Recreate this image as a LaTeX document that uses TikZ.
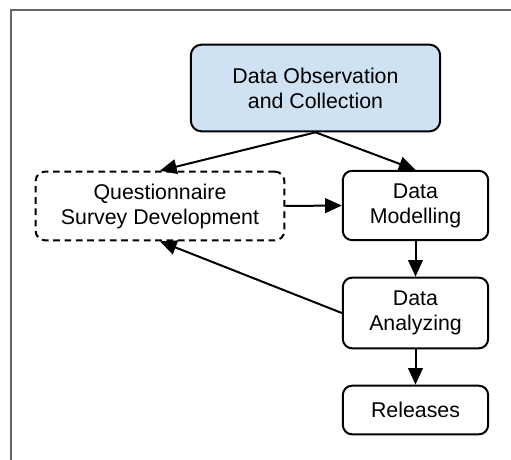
\documentclass[tikz,border=0pt]{standalone}
\usepackage{fontspec}
\setmainfont{Liberation Sans}
\usetikzlibrary{arrows.meta}

\definecolor{obsblue}{RGB}{207,226,243}
\definecolor{framegray}{RGB}{100,100,100}

\tikzset{every picture/.style={line width=1.5pt}}
\tikzset{
  stagebox/.style={draw=black, rounded corners=7pt, align=center, inner sep=0pt,
    font=\fontsize{16pt}{18.75pt}\selectfont, text=black},
  flowarrow/.style={-{Triangle[length=12.5pt,width=11pt]}, line width=1.5pt}
}

\begin{document}
\begin{tikzpicture}[x=0.75pt,y=0.75pt,yscale=-1,xscale=1]
\useasboundingbox (0,0) rectangle (511,460);

% Frame
\draw [framegray, line width=1.5pt] (10.5,460) -- (10.5,10.5) -- (511,10.5) ;

% Text Node
\node [stagebox, fill=obsblue, rounded corners=8pt, minimum width=187pt, minimum height=65pt] (obs) at (315.5,88) {Data Observation\\and Collection};
% Text Node
\node [stagebox, dashed, dash pattern=on 5pt off 3.5pt, minimum width=186.5pt, minimum height=51.5pt] (quest) at (160,206) {Questionnaire\\Survey Development};
% Text Node
\node [stagebox, minimum width=109pt, minimum height=52pt] (model) at (415.5,205.5) {Data\\Modelling};
% Text Node
\node [stagebox, minimum width=109pt, minimum height=53pt] (analyze) at (415.5,313) {Data\\Analyzing};
% Text Node
\node [stagebox, minimum width=109pt, minimum height=36.5pt] (release) at (415.5,410) {Releases};

% Connection
\draw [flowarrow] (obs.south) -- (quest.north) ;
% Connection
\draw [flowarrow] (obs.south) -- (model.north) ;
% Connection
\draw [flowarrow] (quest.east) -- (model.west) ;
% Connection
\draw [flowarrow] (model.south) -- (analyze.north) ;
% Connection
\draw [flowarrow] (analyze.west) -- (quest.south) ;
% Connection
\draw [flowarrow] (analyze.south) -- (release.north) ;

\end{tikzpicture}
\end{document}
